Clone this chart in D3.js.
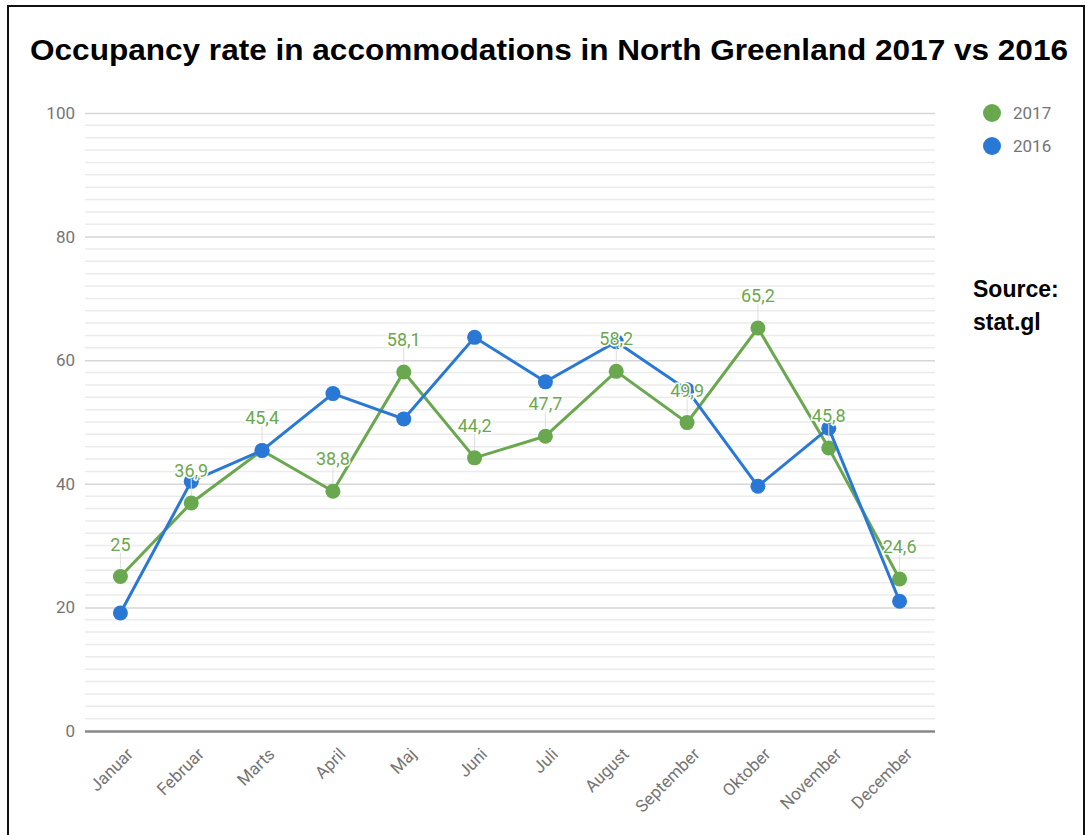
<!DOCTYPE html>
<html lang="en">
<head>
<meta charset="utf-8">
<title>Occupancy rate North Greenland</title>
<script src="https://cdn.jsdelivr.net/npm/d3@7"></script>
<style>
  body { margin: 0; background: #fff; }
  .axis text { font-family: Roboto, sans-serif; font-size: 17px; fill: #757575; }
  .label { font-family: Roboto, sans-serif; font-size: 18px; fill: #6aa84f; }
</style>
</head>
<body>
<script>
// data
var months = ["Januar", "Februar", "Marts", "April", "Maj", "Juni", "Juli", "August", "September", "Oktober", "November", "December"];
var values2017 = [25, 36.9, 45.4, 38.8, 58.1, 44.2, 47.7, 58.2, 49.9, 65.2, 45.8, 24.6];
var values2016 = [19.1, 40.4, 45.4, 54.6, 50.5, 63.7, 56.5, 63.0, 55.2, 39.6, 49.0, 21.0];
var yTicks = [0, 20, 40, 60, 80, 100];
var seriesNames = ["2017", "2016"];

var green = "#6aa84f", blue = "#2a78d6";
var W = 1086, H = 835;
var plot = {left: 85, right: 935, top: 113, bottom: 731};

var svg = d3.select("body").append("svg")
  .attr("width", W).attr("height", H);

// outer frame
svg.append("rect")
  .attr("x", 8).attr("y", 6).attr("width", W - 10).attr("height", H + 10)
  .attr("fill", "none").attr("stroke", "#111").attr("stroke-width", 2);

svg.append("text")
  .attr("x", 30).attr("y", 60)
  .attr("font-family", "'Liberation Sans', Arial, sans-serif")
  .attr("font-weight", "bold").attr("font-size", 29)
  .attr("textLength", 1038).attr("lengthAdjust", "spacingAndGlyphs")
  .attr("fill", "#000")
  .text("Occupancy rate in accommodations in North Greenland 2017 vs 2016");

var x = d3.scalePoint().domain(months).range([plot.left, plot.right]).padding(0.5);
var y = d3.scaleLinear().domain([0, 100]).range([plot.bottom, plot.top]);

// minor gridlines every 2
var minor = d3.range(2, 100, 2).filter(function(v) { return v % 20 !== 0; });
svg.append("g").selectAll("line").data(minor).enter().append("line")
  .attr("x1", plot.left).attr("x2", plot.right)
  .attr("y1", function(d) { return y(d); }).attr("y2", function(d) { return y(d); })
  .attr("stroke", "#ebebeb").attr("stroke-width", 1.5);

// y axis with major grid
var yAxis = d3.axisLeft(y).tickValues(yTicks).tickSize(-(plot.right - plot.left)).tickPadding(10);
var gy = svg.append("g").attr("class", "axis")
  .attr("transform", "translate(" + plot.left + ",0)")
  .call(yAxis);
gy.select(".domain").remove();
gy.selectAll(".tick line").attr("stroke", "#d6d6d6").attr("stroke-width", 1.5);
gy.selectAll(".tick").filter(function(d) { return d === 0; }).select("line")
  .attr("stroke", "#888").attr("stroke-width", 2.5);

// x axis, labels slanted
var xAxis = d3.axisBottom(x).tickSize(0);
var gx = svg.append("g").attr("class", "axis")
  .attr("transform", "translate(0," + plot.bottom + ")")
  .call(xAxis);
gx.select(".domain").remove();
gx.selectAll(".tick text")
  .attr("y", 0).attr("dy", "0.35em")
  .attr("text-anchor", "end")
  .attr("transform", "translate(9,20) rotate(-45)");

var line = d3.line()
  .x(function(d, i) { return x(months[i]); })
  .y(function(d) { return y(d); });

function drawSeries(vals, color) {
  svg.append("path").datum(vals)
    .attr("d", line).attr("fill", "none")
    .attr("stroke", color).attr("stroke-width", 3);
  svg.append("g").selectAll("circle").data(vals).enter().append("circle")
    .attr("cx", function(d, i) { return x(months[i]); })
    .attr("cy", function(d) { return y(d); })
    .attr("r", 7.5).attr("fill", color);
}
drawSeries(values2017, green);
drawSeries(values2016, blue);

// data labels for 2017
var lab = svg.append("g");
lab.selectAll("line").data(values2017).enter().append("line")
  .attr("x1", function(d, i) { return x(months[i]); })
  .attr("x2", function(d, i) { return x(months[i]); })
  .attr("y1", function(d) { return y(d) - 8; })
  .attr("y2", function(d) { return y(d) - 24; })
  .attr("stroke", "#ddd").attr("stroke-width", 1);
lab.selectAll("text").data(values2017).enter().append("text")
  .attr("class", "label")
  .attr("x", function(d, i) { return x(months[i]); })
  .attr("y", function(d) { return y(d) - 26; })
  .attr("text-anchor", "middle")
  .attr("stroke", "#fff").attr("stroke-width", 3).attr("paint-order", "stroke")
  .text(function(d) { return String(d).replace(".", ","); });

// legend
var legend = svg.append("g").selectAll("g").data(seriesNames).enter().append("g")
  .attr("transform", function(d, i) { return "translate(992," + (113 + i * 33) + ")"; });
legend.append("circle").attr("r", 9)
  .attr("fill", function(d, i) { return i === 0 ? green : blue; });
legend.append("text").attr("x", 21).attr("dy", "0.35em")
  .attr("font-family", "Roboto, sans-serif").attr("font-size", 17).attr("fill", "#757575")
  .text(function(d) { return d; });

// source note
var src = svg.append("text")
  .attr("font-family", "'Liberation Sans', Arial, sans-serif")
  .attr("font-weight", "bold").attr("font-size", 23).attr("fill", "#000");
src.append("tspan").attr("x", 973).attr("y", 297).text("Source:");
src.append("tspan").attr("x", 973).attr("y", 330).text("stat.gl");
</script>
</body>
</html>
